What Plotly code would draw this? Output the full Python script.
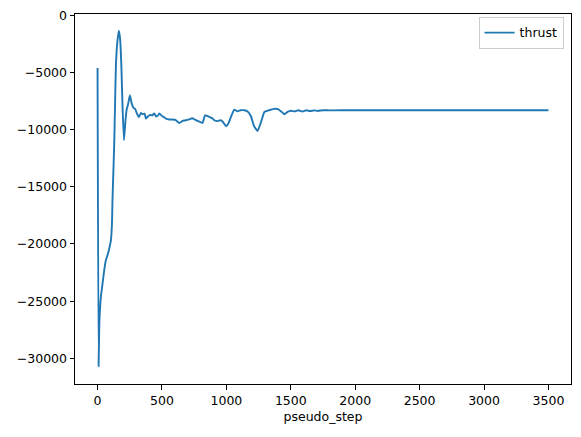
import plotly.graph_objects as go

pseudo_step = [0, 8, 14, 26, 39, 52, 65, 78, 91, 104, 112, 116, 124, 130, 135, 143, 155, 166, 176, 186,
               194, 205, 215, 225, 238, 251, 265, 279, 290, 306, 320, 337, 350, 365, 376, 395, 410, 425, 440, 455,
               470, 479, 500, 515, 531, 555, 580, 605, 634, 660, 685, 710, 735, 760, 790, 815, 834, 850, 867, 890,
               906, 930, 958, 975, 997, 1015, 1035, 1061, 1085, 1110, 1140, 1165, 1190, 1215, 1242, 1270, 1295, 1330, 1370, 1400,
               1425, 1450, 1475, 1500, 1530, 1560, 1590, 1620, 1650, 1680, 1710, 1750, 1800, 2000, 2250, 2500, 2750, 3000, 3250, 3500]
thrust = [-4600, -30700, -26900, -24600, -23450, -22280, -21400, -20970, -20390, -19660, -18200, -16170, -13250, -11000, -8300, -4220, -2185, -1350, -2185, -4800,
          -8010, -10920, -9470, -8300, -7720, -6990, -7700, -8100, -8160, -8590, -8900, -8530, -8650, -8600, -9030, -8800, -8700, -8750, -8590, -8850,
          -8750, -8590, -8800, -8900, -9030, -9110, -9110, -9150, -9410, -9230, -9180, -9100, -9000, -9150, -9300, -9410, -8740, -8800, -8885, -9000,
          -9175, -9250, -9175, -9350, -9700, -9450, -8900, -8240, -8400, -8300, -8300, -8400, -8800, -9700, -10110, -9300, -8450, -8300, -8180, -8200,
          -8400, -8650, -8450, -8350, -8400, -8300, -8420, -8300, -8380, -8310, -8360, -8300, -8310, -8300, -8300, -8300, -8300, -8300, -8300, -8300]

x_ticks = [0, 500, 1000, 1500, 2000, 2500, 3000, 3500]
y_ticks = [0, -5000, -10000, -15000, -20000, -25000, -30000]
y_ticktext = ["0", "−5000", "−10000", "−15000", "−20000", "−25000", "−30000"]

fig = go.Figure()
fig.add_trace(go.Scatter(x=pseudo_step, y=thrust, mode="lines", name="thrust",
                         line=dict(color="#1f77b4", width=1.9, shape="spline", smoothing=0.4)))

axis_common = dict(showgrid=False, zeroline=False, showline=True, linecolor="black", linewidth=1,
                   mirror=True, ticks="outside", ticklen=4.5, tickwidth=1, tickcolor="black",
                   automargin=False, ticklabeloverflow="allow",
                   tickfont=dict(family="DejaVu Sans", size=12.5, color="black"))

# the page body adds an 8px offset, so the figure is sized/positioned to compensate
fig.update_layout(
    width=573, height=429,
    margin=dict(l=67, r=10, t=6, b=53),
    paper_bgcolor="white", plot_bgcolor="white",
    font=dict(family="DejaVu Sans", size=12.5, color="black"),
    showlegend=True,
    legend=dict(x=0.985, y=0.992, xanchor="right", yanchor="top",
                bgcolor="rgba(255,255,255,0.8)", bordercolor="#cccccc", borderwidth=1,
                font=dict(family="DejaVu Sans", size=12.5, color="black")),
    xaxis=dict(range=[-175, 3675], tickvals=x_ticks,
               title=dict(text="pseudo_step", standoff=5, font=dict(family="DejaVu Sans", size=12.5)),
               **axis_common),
    yaxis=dict(range=[-32250, 120], tickvals=y_ticks, ticktext=y_ticktext, **axis_common),
)

fig.write_html("out.html")
